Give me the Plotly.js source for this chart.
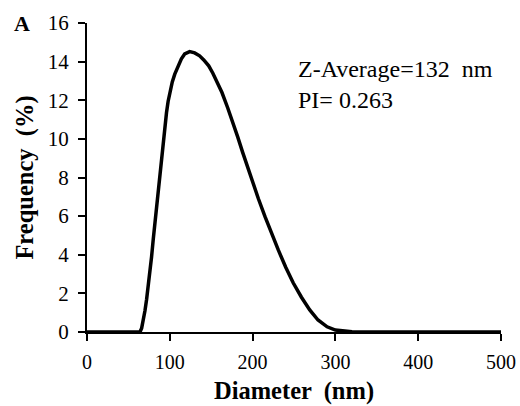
<!DOCTYPE html>
<html>
<head>
<meta charset="utf-8">
<script src="https://cdn.plot.ly/plotly-3.0.1.min.js"></script>
<style>html,body{margin:0;padding:0;background:#fff;}#chart{width:520px;height:406px;}</style>
</head>
<body>
<div id="chart"></div>
<script>
var diameter = [0, 60, 64, 66, 68, 70, 72, 74, 76, 78, 80, 82, 84, 86, 88, 90, 92, 94, 96, 98, 100, 103, 106, 110, 114, 118, 124,
  130, 136, 141, 147, 152, 158, 163, 170, 176, 182, 188, 194, 200, 207, 215, 223, 231, 240, 249, 259, 269, 279, 290, 300, 310, 320, 330, 400, 500];
var frequency = [0, 0, 0, 0.2, 0.6, 1.1, 1.7, 2.35, 3.05, 3.9, 4.8, 5.65, 6.5, 7.35, 8.15, 8.95, 9.8, 10.6, 11.35, 11.95, 12.4, 12.95, 13.35, 13.8, 14.15, 14.4, 14.52,
  14.45, 14.3, 14.09, 13.78, 13.4, 12.9, 12.4, 11.6, 10.9, 10.1, 9.3, 8.5, 7.75, 6.9, 5.97, 5.08, 4.25, 3.35, 2.55, 1.8, 1.14, 0.62, 0.27, 0.1, 0.04, 0.01, 0, 0, 0];
var xTicks = [0, 100, 200, 300, 400, 500];
var yTicks = [0, 2, 4, 6, 8, 10, 12, 14, 16];
var panelLabel = "A";
var noteLines = ["Z-Average=132  nm", "PI= 0.263"];

var serif = "'Liberation Serif', 'Times New Roman', serif";

var trace = {
  x: diameter, y: frequency, type: "scatter", mode: "lines",
  line: {color: "#000", width: 3.5, shape: "linear"},
  hoverinfo: "skip", cliponaxis: false
};

var layout = {
  width: 520, height: 406,
  margin: {l: 87, r: 19, t: 23, b: 74},
  paper_bgcolor: "#fff", plot_bgcolor: "#fff",
  showlegend: false,
  font: {family: serif, color: "#000", size: 20},
  xaxis: {
    range: [0, 500], tickvals: xTicks, ticktext: xTicks.map(String),
    showgrid: false, zeroline: false, showline: true, linecolor: "#000", linewidth: 2,
    ticks: "outside", ticklen: 7, tickwidth: 2, tickcolor: "#000", ticklabelstandoff: 4,
    tickfont: {family: serif, size: 20, color: "#000"},
    title: {text: "<b>Diameter  (nm)</b>", font: {family: serif, size: 24.5, color: "#000"}, standoff: 10}
  },
  yaxis: {
    range: [0, 16], tickvals: yTicks, ticktext: yTicks.map(String),
    showgrid: false, zeroline: false, showline: true, linecolor: "#000", linewidth: 2,
    ticks: "outside", ticklen: 7, tickwidth: 2, tickcolor: "#000", ticklabelstandoff: 5,
    tickfont: {family: serif, size: 21, color: "#000"},
    title: {text: "<b>Frequency  (%)</b>", font: {family: serif, size: 24.5, color: "#000"}, standoff: 7}
  },
  annotations: [
    {x: 253, y: 13.6, xref: "x", yref: "y", xanchor: "left", yanchor: "middle", showarrow: false,
     text: noteLines[0], font: {family: serif, size: 24, color: "#000"}},
    {x: 253, y: 12.0, xref: "x", yref: "y", xanchor: "left", yanchor: "middle", showarrow: false,
     text: noteLines[1], font: {family: serif, size: 24, color: "#000"}},
    {x: (21.5 - 87) / (520 - 87 - 19), y: 1, xref: "paper", yref: "paper", xanchor: "center", yanchor: "middle", showarrow: false,
     text: "<b>" + panelLabel + "</b>", font: {family: serif, size: 22, color: "#000"}}
  ]
};

Plotly.newPlot("chart", [trace], layout, {staticPlot: true, displayModeBar: false});
</script>
</body>
</html>
